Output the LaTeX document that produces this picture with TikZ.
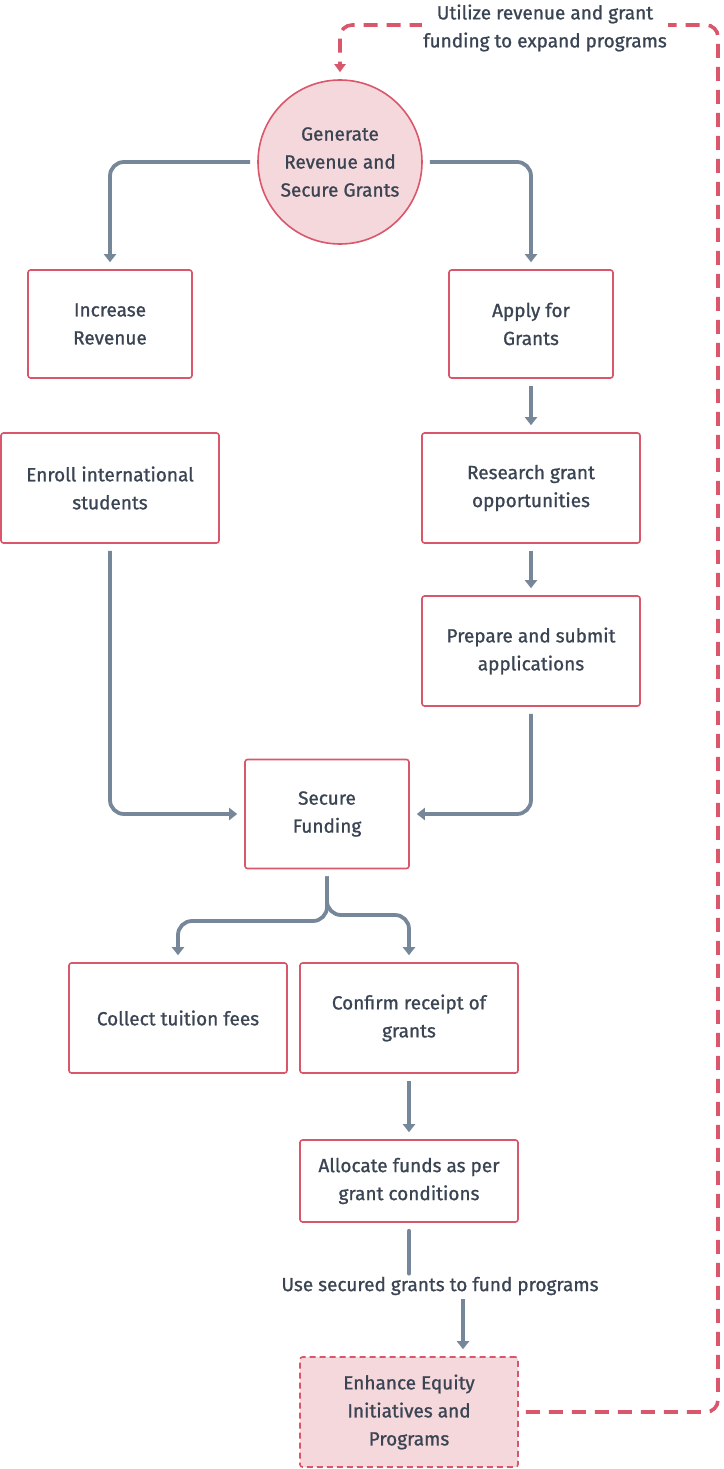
\documentclass[tikz,border=0pt]{standalone}
\usepackage{fontspec}
\setmainfont{Fira Sans}
\newfontfamily\diaff{Fira Sans}[FakeBold=1.0]
\usetikzlibrary{arrows.meta,calc}
\definecolor{bred}{HTML}{D9566B}
\definecolor{pinkf}{HTML}{F5D8DC}
\definecolor{gline}{HTML}{76879A}
\definecolor{txt}{HTML}{3A4453}
\newcommand{\diafont}{\diaff\fontsize{19}{28}\selectfont}
\tikzset{
  box/.style={draw=bred, line width=1.6pt, rounded corners=2.5pt, fill=white, text=txt,
    align=center, font=\diafont, inner sep=0pt},
  circ/.style={circle, draw=bred, line width=1.6pt, fill=pinkf, text=txt, align=center,
    minimum size=164pt, inner sep=0pt, font=\diafont},
  conn/.style={draw=gline, line width=3.8pt, rounded corners=14pt,
    -{Triangle[width=12pt,length=8pt]}, shorten <=7pt, shorten >=7pt},
  plainconn/.style={draw=gline, line width=3.8pt, line cap=round},
  fb/.style={draw=bred, line width=3.6pt, dash pattern=on 14pt off 9pt, rounded corners=12pt,
    -{Triangle[width=11pt,length=8pt]}},
  lbl/.style={text=txt, align=center, font=\diafont, fill=white, inner sep=2pt}
}
\begin{document}
\begin{tikzpicture}[x=1pt,y=-1pt]
\useasboundingbox (0,0) rectangle (723,1469);
\node[circ] (gen) at (340,162) {Generate\\Revenue and\\Secure Grants};
\node[box, minimum width=164pt, minimum height=108pt] (inc) at (110,324) {Increase\\Revenue};
\node[box, minimum width=164pt, minimum height=108pt] (app) at (531,324) {Apply for\\Grants};
\node[box, minimum width=218pt, minimum height=110pt] (enr) at (110,488) {Enroll international\\students};
\node[box, minimum width=218pt, minimum height=110pt] (res) at (531,488) {Research grant\\opportunities};
\node[box, minimum width=218pt, minimum height=110pt] (pre) at (531,651) {Prepare and submit\\applications};
\node[box, minimum width=164pt, minimum height=109pt] (sec) at (327,814) {Secure\\Funding};
\node[box, minimum width=218pt, minimum height=110pt] (col) at (178,1018) {Collect tuition fees};
\node[box, minimum width=218pt, minimum height=110pt] (con) at (409,1018) {Confirm receipt of\\grants};
\node[box, minimum width=218pt, minimum height=82pt] (all) at (409,1181) {Allocate funds as per\\grant conditions};
\node[box, fill=pinkf, dash pattern=on 6pt off 4pt, minimum width=218pt, minimum height=110pt] (enh) at (409,1412) {Enhance Equity\\Initiatives and\\Programs};

% top connectors
\draw[conn] (gen.west) -- (gen.west -| inc.north) -- (inc.north);
\draw[conn] (gen.east) -- (gen.east -| app.north) -- (app.north);
\draw[conn] (app.south) -- (res.north);
\draw[conn] (res.south) -- (pre.north);
\draw[conn] (enr.south) -- (enr.south |- sec.west) -- (sec.west);
\draw[conn] (pre.south) -- (pre.south |- sec.east) -- (sec.east);

% split
\coordinate (splitL) at (327,921);
\coordinate (splitR) at (327,915);
\draw[conn] (sec.south) -- (splitL) -- (splitL -| col.north) -- (col.north);
\draw[conn] (sec.south) -- (splitR) -- (splitR -| con.north) -- (con.north);
\draw[conn] (con.south) -- (all.north);

% labelled connector
\node[lbl, fill=none] (use) at (440,1286) {Use secured grants to fund programs};
\draw[plainconn] ($(all.south)+(0,8)$) -- ($(all.south |- use.north)+(0,-1)$);
\coordinate (arrTop) at ($(use.south)+(23,0)$);
\draw[conn, rounded corners=0pt, shorten <=2pt] (arrTop) -- (arrTop |- enh.north);

% feedback
\coordinate (fbR) at (718,1412);
\coordinate (fbT) at (718,25);
\draw[fb, shorten <=7pt, shorten >=7pt] (enh.east) -- (fbR) -- (fbT) -- (fbT -| gen.north) -- (gen.north);
\node[lbl, inner sep=1pt] (util) at (545,28) {Utilize revenue and grant\\funding to expand programs};
\end{tikzpicture}
\end{document}
